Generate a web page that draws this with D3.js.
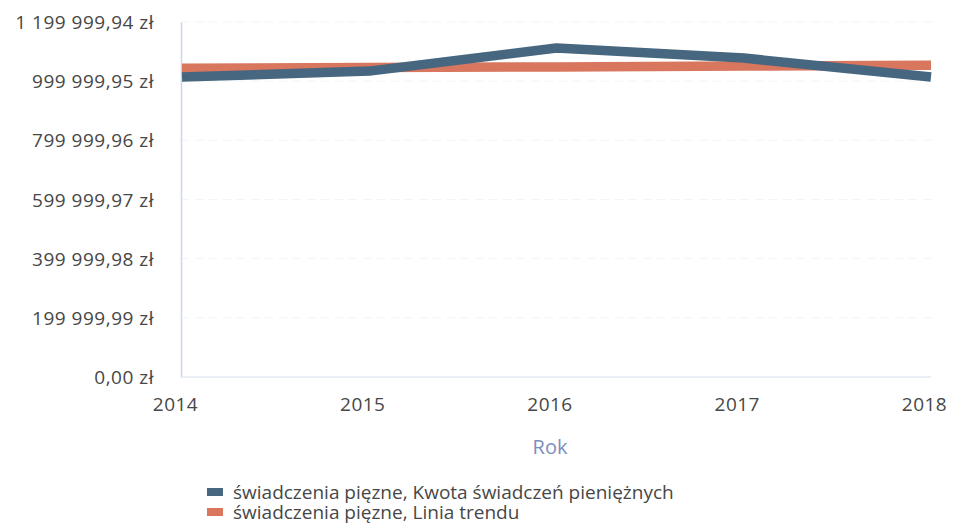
<!DOCTYPE html>
<html>
<head>
<meta charset="utf-8">
<script src="https://cdn.jsdelivr.net/npm/d3@7"></script>
<style>
  html, body { margin: 0; padding: 0; background: #ffffff; }
  svg { display: block; font-family: "Open Sans", "Noto Sans", sans-serif; }
</style>
</head>
<body>
<svg id="chart" width="953" height="528"></svg>
<script>
const years = [2014, 2015, 2016, 2017, 2018];
const amounts = [1014000, 1034000, 1112000, 1078000, 1014000];
const trend = [1044000, 1046000, 1048000, 1051000, 1054000];
const yTicks = [0, 199999.99, 399999.98, 599999.97, 799999.96, 999999.95, 1199999.94];
const tickLabels = ["0,00 zł", "199 999,99 zł", "399 999,98 zł", "599 999,97 zł", "799 999,96 zł", "999 999,95 zł", "1 199 999,94 zł"];
const seriesNames = ["świadczenia pięzne, Kwota świadczeń pieniężnych", "świadczenia pięzne, Linia trendu"];
const colors = ["#46677f", "#d8765e"];
const xTitle = "Rok";

const svg = d3.select("#chart");
const mLeft = 181, mRight = 931, mTop = 22, mBottom = 377;

const x = d3.scalePoint().domain(years).range([mLeft + 1, mRight]);
const y = d3.scaleLinear().domain([0, 1199999.94]).range([mBottom, mTop]);

// faint gridlines
svg.append("g").selectAll("line").data(yTicks.slice(1)).join("line")
  .attr("x1", mLeft).attr("x2", mRight)
  .attr("y1", d => y(d)).attr("y2", d => y(d))
  .attr("stroke", "#f2f3f6").attr("stroke-width", 1).attr("stroke-dasharray", "8,6");

// y axis
const yAxis = d3.axisLeft(y).tickValues(yTicks).tickSize(0).tickPadding(0)
  .tickFormat((d, i) => tickLabels[i]);
const gy = svg.append("g").attr("transform", `translate(${mLeft},0)`).call(yAxis);
gy.select(".domain").attr("stroke", "#c9d6f0").attr("stroke-width", 1.5);
gy.selectAll("text").attr("x", -27).attr("dy", "0.35em")
  .attr("fill", "#474747").style("font-size", "19px").style("letter-spacing", "0.5px")
  .style("font-family", "'Open Sans', 'Noto Sans', sans-serif");

// x axis
const xAxis = d3.axisBottom(x).tickSize(0).tickPadding(0);
const gx = svg.append("g").attr("transform", `translate(0,${mBottom})`).call(xAxis);
gx.select(".domain").attr("stroke", "#e3e8f2").attr("stroke-width", 1.5)
  .attr("d", `M${mLeft},0H${mRight}`);
gx.selectAll("text").attr("y", 34).attr("dx", -7).attr("dy", 0)
  .attr("fill", "#474747").style("font-size", "19px").style("letter-spacing", "0.5px")
  .style("font-family", "'Open Sans', 'Noto Sans', sans-serif");

// x title
svg.append("text").attr("x", 550).attr("y", 454).attr("text-anchor", "middle")
  .attr("fill", "#7d8dc0").style("font-size", "20px").text(xTitle);

// lines
const line = d3.line().x((d, i) => x(years[i])).y(d => y(d));
const drawOrder = [{ values: trend, color: colors[1] }, { values: amounts, color: colors[0] }];
svg.append("g").selectAll("path").data(drawOrder).join("path")
  .attr("d", d => line(d.values))
  .attr("fill", "none")
  .attr("stroke", d => d.color)
  .attr("stroke-width", 9.5)
  .attr("stroke-linejoin", "round");

// legend
const lg = svg.append("g");
const legendTop = 492, legendStep = 20;
lg.selectAll("rect").data(seriesNames).join("rect")
  .attr("x", 207).attr("y", (d, i) => legendTop + i * legendStep - 4)
  .attr("width", 16).attr("height", 8)
  .attr("fill", (d, i) => colors[i]);
const lt = lg.append("text").attr("fill", "#474747").style("font-size", "19px");
lt.selectAll("tspan").data(seriesNames).join("tspan")
  .attr("x", 233).attr("y", (d, i) => legendTop + i * legendStep).attr("dy", "0.35em")
  .text(d => d);
</script>
</body>
</html>
